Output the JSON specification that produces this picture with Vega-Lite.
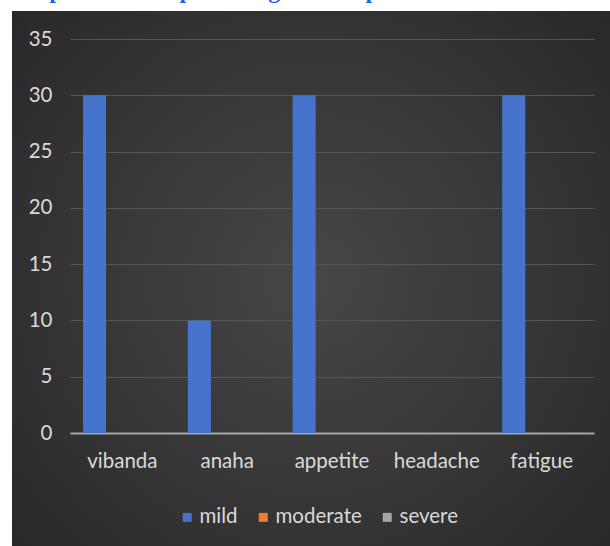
{
  "$schema": "https://vega.github.io/schema/vega-lite/v6.json",
  "width": 598,
  "height": 535,
  "autosize": {"type": "none"},
  "padding": {"left": 12, "top": 11, "right": 0, "bottom": 0},
  "background": "white",
  "title": {
    "text": "Graph 2: Shows percentage of complaints after treatment",
    "anchor": "start",
    "orient": "top",
    "frame": "group",
    "offset": 4,
    "dx": -4,
    "dy": 15,
    "baseline": "alphabetic",
    "font": "Liberation Serif",
    "fontSize": 24,
    "fontWeight": "bold",
    "color": "#1f5fe8"
  },
  "data": {
    "values": [
      {"symptom": "vibanda", "severity": "mild", "value": 30},
      {"symptom": "vibanda", "severity": "moderate", "value": 0},
      {"symptom": "vibanda", "severity": "severe", "value": 0},
      {"symptom": "anaha", "severity": "mild", "value": 10},
      {"symptom": "anaha", "severity": "moderate", "value": 0},
      {"symptom": "anaha", "severity": "severe", "value": 0},
      {"symptom": "appetite", "severity": "mild", "value": 30},
      {"symptom": "appetite", "severity": "moderate", "value": 0},
      {"symptom": "appetite", "severity": "severe", "value": 0},
      {"symptom": "headache", "severity": "mild", "value": 0},
      {"symptom": "headache", "severity": "moderate", "value": 0},
      {"symptom": "headache", "severity": "severe", "value": 0},
      {"symptom": "fatigue", "severity": "mild", "value": 30},
      {"symptom": "fatigue", "severity": "moderate", "value": 0},
      {"symptom": "fatigue", "severity": "severe", "value": 0}
    ]
  },
  "mark": {"type": "bar"},
  "encoding": {
    "x": {
      "field": "symptom",
      "type": "nominal",
      "sort": ["vibanda", "anaha", "appetite", "headache", "fatigue"],
      "scale": {"range": [58, 582], "paddingInner": 0, "paddingOuter": 0},
      "axis": {
        "title": null,
        "orient": "bottom",
        "offset": -113,
        "domain": true,
        "domainColor": "#a6a6a6",
        "domainWidth": 2,
        "ticks": false,
        "tickSize": 0,
        "labelPadding": 18,
        "labelAngle": 0,
        "labelColor": "#d9d9d9",
        "labelFont": "Lato",
        "labelFontSize": 20.5,
        "grid": false
      }
    },
    "xOffset": {
      "field": "severity",
      "type": "nominal",
      "sort": ["mild", "moderate", "severe"],
      "scale": {"paddingInner": 0.173, "paddingOuter": 0.468}
    },
    "y": {
      "field": "value",
      "type": "quantitative",
      "scale": {"domain": [0, 35], "range": [422, 28], "nice": false, "zero": true},
      "axis": {
        "title": null,
        "values": [0, 5, 10, 15, 20, 25, 30, 35],
        "domain": false,
        "ticks": false,
        "tickSize": 0,
        "labelPadding": 8,
        "offset": -48,
        "grid": true,
        "gridColor": "#555555",
        "gridWidth": 1,
        "labelColor": "#d9d9d9",
        "labelFont": "Lato",
        "labelFontSize": 20.5
      }
    },
    "color": {
      "field": "severity",
      "type": "nominal",
      "sort": ["mild", "moderate", "severe"],
      "scale": {
        "domain": ["mild", "moderate", "severe"],
        "range": ["#4674cc", "#ed7d31", "#a5a5a5"]
      },
      "legend": {
        "title": null,
        "orient": "none",
        "legendX": 165,
        "legendY": 496,
        "direction": "horizontal",
        "symbolType": "square",
        "symbolSize": 81,
        "symbolStrokeWidth": 0,
        "labelColor": "#d9d9d9",
        "labelFont": "Lato",
        "labelFontSize": 20.5,
        "columnPadding": 15,
        "labelOffset": 2
      }
    }
  },
  "config": {
    "view": {
      "stroke": null,
      "fill": {
        "gradient": "radial",
        "x1": 0.5, "y1": 0.5, "r1": 0,
        "x2": 0.5, "y2": 0.5, "r2": 0.75,
        "stops": [
          {"offset": 0, "color": "#474747"},
          {"offset": 1, "color": "#252525"}
        ]
      }
    }
  }
}
